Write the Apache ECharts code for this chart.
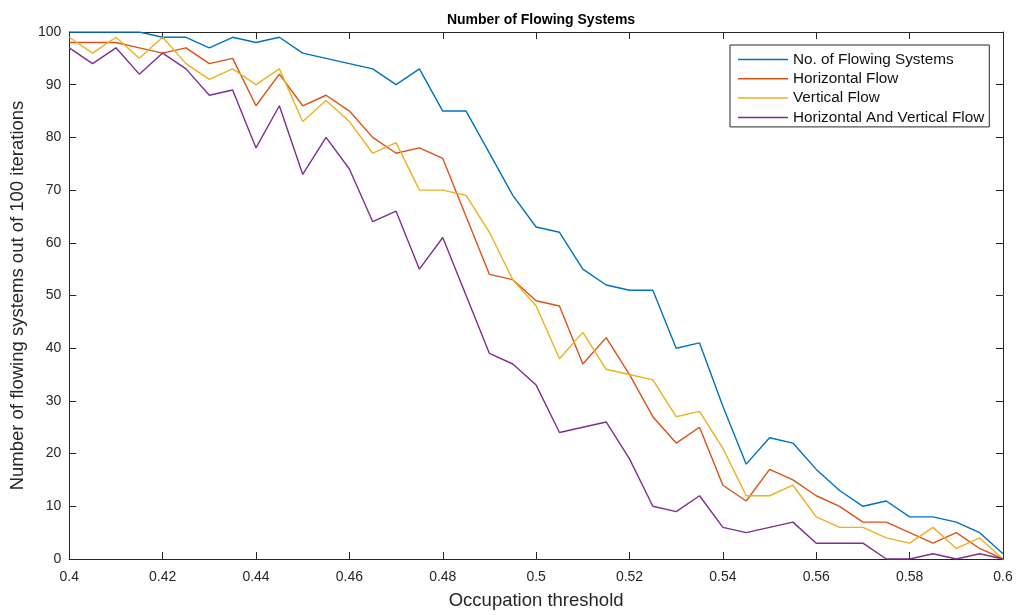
<!DOCTYPE html>
<html>
<head>
<meta charset="utf-8">
<script src="https://cdn.jsdelivr.net/npm/echarts@6/dist/echarts.min.js"></script>
<style>html,body{margin:0;padding:0;background:#fff;}#c{width:1017px;height:615px;}</style>
</head>
<body>
<div id="c"></div>
<script>
const thresholds = [0.4,0.405,0.41,0.415,0.42,0.425,0.43,0.435,0.44,0.445,0.45,0.455,0.46,0.465,0.47,0.475,0.48,0.485,0.49,0.495,0.5,0.505,0.51,0.515,0.52,0.525,0.53,0.535,0.54,0.545,0.55,0.555,0.56,0.565,0.57,0.575,0.58,0.585,0.59,0.595,0.6];
const flowing = [100,100,100,100,99,99,97,99,98,99,96,95,94,93,90,93,85,85,77,69,63,62,55,52,51,51,40,41,29,18,23,22,17,13,10,11,8,8,7,5,1];
const horizontal = [98,98,98,97,96,97,94,95,86,92,86,88,85,80,77,78,76,65,54,53,49,48,37,42,35,27,22,25,14,11,17,15,12,10,7,7,5,3,5,2,0];
const vertical = [99,96,99,95,99,94,91,93,90,93,83,87,83,77,79,70,70,69,62,53,48,38,43,36,35,34,27,28,21,12,12,14,8,6,6,4,3,6,2,4,0];
const both = [97,94,97,92,96,93,88,89,78,86,73,80,74,64,66,55,61,50,39,37,33,24,25,26,19,10,9,12,6,5,6,7,3,3,3,0,0,1,0,1,0];
const seriesNames = ['No. of Flowing Systems','Horizontal Flow','Vertical Flow','Horizontal And Vertical Flow'];
const seriesColors = ['#0072BD','#D95319','#EDB120','#7E2F8E'];
const xTicks = [0.4,0.42,0.44,0.46,0.48,0.5,0.52,0.54,0.56,0.58,0.6];
const yTicks = [0,10,20,30,40,50,60,70,80,90,100];

const font = 'Liberation Sans, Arial, Helvetica, sans-serif';
const axisColor = '#262626';
const allData = [flowing, horizontal, vertical, both];

const chart = echarts.init(document.getElementById('c'), null, {renderer:'canvas'});
const baseX = {
  type:'value', min:xTicks[0], max:xTicks[xTicks.length-1], interval:0.02,
  axisLine:{show:true, onZero:false, lineStyle:{color:axisColor, width:1}},
  axisTick:{show:true, inside:true, length:7, lineStyle:{color:axisColor}},
  splitLine:{show:false}
};
const baseY = {
  type:'value', min:yTicks[0], max:yTicks[yTicks.length-1], interval:10,
  axisLine:{show:true, onZero:false, lineStyle:{color:axisColor, width:1}},
  axisTick:{show:true, inside:true, length:7, lineStyle:{color:axisColor}},
  splitLine:{show:false}
};
chart.setOption({
  animation:false,
  backgroundColor:'#fff',
  title:{text:'Number of Flowing Systems', left:536, textAlign:'center', top:8,
    textStyle:{fontFamily:font, fontSize:14, fontWeight:'bold', color:'#000'}},
  grid:{left:68, right:14, top:32, bottom:56, containLabel:false},
  legend:{
    orient:'vertical', left:730, top:45, itemWidth:50, itemHeight:1.5, itemGap:4.3,
    icon:'rect',
    padding:[7,5,2,8],
    borderColor:axisColor, borderWidth:1, backgroundColor:'#fff',
    textStyle:{fontFamily:font, fontSize:15.3, color:'#111'},
    data:seriesNames
  },
  xAxis:[
    Object.assign({}, baseX, {position:'bottom',
      name:'Occupation threshold', nameLocation:'middle', nameGap:32,
      nameTextStyle:{fontFamily:font, fontSize:18.5, color:'#262626'},
      axisLabel:{show:true, margin:11, fontFamily:font, fontSize:14, color:'#262626',
        formatter:v=>String(+v.toFixed(2))}}),
    Object.assign({}, baseX, {position:'top', axisLabel:{show:false}})
  ],
  yAxis:[
    Object.assign({}, baseY, {position:'left',
      name:'Number of flowing systems out of 100 iterations', nameLocation:'middle', nameGap:40,
      nameTextStyle:{fontFamily:font, fontSize:18.5, color:'#262626'},
      axisLabel:{show:true, margin:8, fontFamily:font, fontSize:14, color:'#262626'}}),
    Object.assign({}, baseY, {position:'right', axisLabel:{show:false}})
  ],
  series: seriesNames.map((n,i)=>({
    name:n, type:'line', xAxisIndex:0, yAxisIndex:0,
    data: thresholds.map((x,j)=>[x, allData[i][j]]),
    symbol:'none', showSymbol:false,
    lineStyle:{color:seriesColors[i], width:1.4},
    itemStyle:{color:seriesColors[i]}
  }))
});
</script>
</body>
</html>
